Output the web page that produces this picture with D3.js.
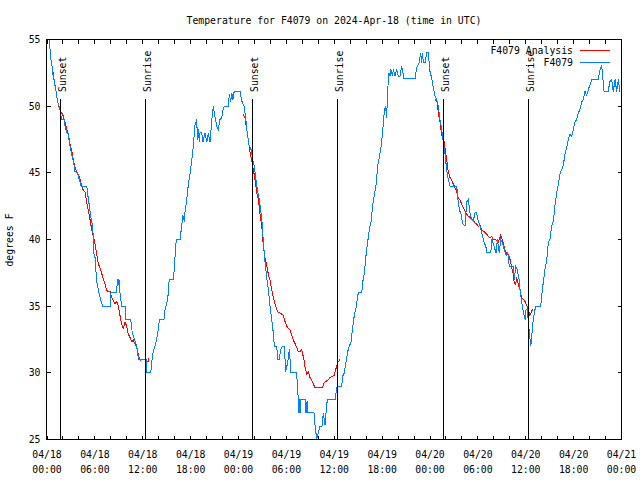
<!DOCTYPE html>
<html><head><meta charset="utf-8">
<script src="https://cdn.jsdelivr.net/npm/d3@7"></script>
<style>
body{margin:0;background:#fff}
svg{display:block}
text{font-family:"DejaVu Sans Mono",monospace;font-size:9.8px;fill:#000}
</style>
</head><body>
<svg id="chart" width="640" height="480"></svg>
<script>
// ---------------- data ----------------
const startUTC = Date.UTC(2024, 3, 18, 0, 0);   // 2024-04-18 00:00 UTC
const spanHours = 72;
const titleText = "Temperature for F4079 on 2024-Apr-18 (time in UTC)";
const yLabelText = "degrees F";
const seriesNames = ["F4079 Analysis", "F4079"];
const seriesColors = ["#ff0000", "#0080ff"];
const yTickValues = [25, 30, 35, 40, 45, 50, 55];
const labelTickHours = [0, 6, 12, 18, 24, 30, 36, 42, 48, 54, 60, 66, 72];
const minorTickHours = d3.range(0, 73, 2);
const sunsetHours = [1.72, 25.73, 49.67];
const sunriseHours = [12.32, 36.38, 60.32];

// observed F4079 (hours after start, deg F)
const observed = [[0.31,55.0],[0.38,54.25],[0.50,53.5],[0.63,53.0],[0.71,52.5],[0.88,52.0],[1.00,51.55],[1.13,51.1],[1.29,50.5],[1.47,50.05],[1.63,49.75],[1.75,49.3],[1.84,49.0],[2.13,49.0],[2.26,48.5],[2.47,48.0],[2.63,47.95],[2.79,47.35],[2.97,46.75],[3.17,46.2],[3.38,45.6],[3.51,45.1],[3.80,45.0],[4.05,44.5],[4.26,44.0],[4.98,44.0],[5.10,43.4],[5.30,42.55],[5.51,41.65],[5.73,41.0],[5.80,40.0],[5.83,39.0],[6.02,38.65],[6.23,36.85],[6.43,36.25],[6.64,35.7],[6.86,35.2],[6.98,35.0],[7.90,35.0],[8.02,36.0],[8.74,36.0],[8.81,37.0],[8.94,36.6],[9.02,37.0],[9.15,36.0],[9.36,35.0],[9.78,35.0],[9.84,34.0],[10.49,34.0],[10.69,33.0],[11.03,32.4],[11.24,32.0],[11.44,31.15],[11.53,31.0],[12.41,31.0],[12.47,30.0],[13.00,30.0],[13.12,30.8],[13.32,31.6],[13.54,32.0],[13.82,32.75],[14.07,33.85],[14.16,34.0],[14.66,34.0],[14.79,34.75],[15.13,35.5],[15.29,36.8],[15.42,37.0],[15.83,37.0],[15.95,37.75],[16.13,39.6],[16.26,40.0],[16.67,40.0],[16.88,41.0],[17.01,41.8],[17.21,41.35],[17.30,42.1],[17.51,43.0],[17.71,44.1],[17.92,44.9],[18.14,45.9],[18.34,47.05],[18.55,48.6],[18.76,49.0],[18.86,47.5],[18.96,48.25],[19.09,47.3],[19.18,48.0],[19.39,48.0],[19.55,47.3],[19.80,48.0],[20.02,47.3],[20.22,48.0],[20.43,47.3],[20.64,48.85],[20.84,50.0],[21.06,49.2],[21.27,48.5],[21.47,48.25],[21.68,49.0],[21.90,49.15],[22.10,49.9],[22.31,50.0],[22.72,50.0],[22.85,50.9],[23.02,50.3],[23.15,51.0],[23.31,50.5],[23.40,51.0],[23.56,51.1],[24.19,51.1],[24.40,50.4],[24.69,50.0],[24.90,49.15],[25.03,48.25],[25.32,47.1],[25.57,46.75],[25.78,46.0],[25.98,45.5],[26.19,44.5],[26.41,43.6],[26.61,43.0],[26.78,42.25],[26.98,41.1],[27.11,39.8],[27.32,38.35],[27.53,37.15],[27.74,36.25],[27.95,35.0],[28.16,34.0],[28.36,33.0],[28.49,32.0],[28.79,32.0],[28.91,31.0],[29.11,31.0],[29.29,31.75],[29.54,32.0],[29.74,32.0],[29.92,30.1],[30.17,30.8],[30.37,31.75],[30.46,31.0],[30.58,30.0],[31.30,30.0],[31.37,29.0],[31.50,28.0],[31.58,27.0],[31.64,28.0],[31.71,27.0],[31.77,28.0],[32.34,28.0],[32.46,27.0],[32.59,27.85],[32.71,27.0],[33.46,27.0],[33.59,26.1],[33.80,25.0],[34.00,25.5],[34.21,26.0],[34.47,26.0],[34.63,27.0],[34.84,26.1],[34.97,27.0],[35.13,28.0],[36.10,28.0],[36.22,28.5],[36.38,29.0],[36.93,29.0],[37.06,29.75],[37.26,30.0],[37.47,30.8],[37.69,31.6],[37.89,32.0],[38.10,32.3],[38.31,33.4],[38.51,34.3],[38.73,34.9],[38.94,35.8],[39.04,36.0],[39.44,36.0],[39.57,36.8],[39.77,37.5],[39.98,38.8],[40.19,39.8],[40.39,40.75],[40.61,41.35],[40.82,42.6],[41.02,43.3],[41.23,44.05],[41.45,45.55],[41.65,46.15],[41.86,46.9],[42.07,48.1],[42.27,49.6],[42.42,50.0],[42.57,49.15],[42.70,51.25],[42.86,52.5],[42.99,52.25],[43.11,52.75],[43.30,52.25],[43.40,52.75],[43.61,52.25],[43.80,52.75],[44.03,52.25],[44.24,52.25],[44.45,53.0],[44.62,52.5],[44.74,52.05],[46.12,52.05],[46.33,52.9],[46.62,53.25],[46.84,54.0],[46.96,53.25],[47.06,54.0],[47.16,53.25],[47.37,53.25],[47.59,54.0],[47.79,54.0],[48.00,52.6],[48.21,52.1],[48.41,51.4],[48.63,50.75],[48.84,50.5],[49.04,50.0],[49.25,49.0],[49.47,48.25],[49.67,47.3],[49.88,46.4],[50.09,45.25],[50.29,44.5],[50.50,44.0],[51.35,44.0],[51.47,43.15],[51.67,42.25],[51.89,41.9],[52.10,41.2],[52.39,41.0],[52.60,42.8],[52.80,43.0],[53.01,42.0],[53.23,41.5],[53.43,41.4],[53.64,42.0],[53.85,42.0],[54.06,41.35],[54.27,41.0],[54.48,40.5],[54.68,40.0],[55.02,39.4],[55.11,39.0],[55.61,39.0],[55.77,40.0],[56.02,39.5],[56.27,39.0],[56.44,40.0],[56.69,39.0],[56.86,40.0],[57.11,39.7],[57.31,39.25],[57.53,38.8],[57.74,39.0],[57.94,38.0],[58.44,38.0],[58.57,37.0],[58.74,38.0],[58.94,37.75],[59.16,37.0],[59.28,36.25],[59.49,35.3],[59.70,34.6],[59.91,34.0],[60.03,34.7],[60.20,34.75],[60.32,33.85],[60.45,33.0],[60.62,32.0],[60.72,32.5],[60.82,33.25],[60.95,34.0],[61.16,34.75],[61.29,35.0],[61.87,35.0],[62.00,35.8],[62.20,36.8],[62.41,37.75],[62.63,38.5],[62.83,39.8],[63.04,40.0],[63.25,41.05],[63.46,41.35],[63.67,42.6],[63.88,43.5],[64.08,44.1],[64.29,44.9],[64.51,45.25],[64.71,45.6],[64.92,46.4],[65.13,46.9],[65.33,47.5],[65.55,47.9],[65.76,47.7],[65.96,48.25],[66.17,48.8],[66.39,49.0],[66.59,49.5],[66.80,49.75],[67.01,50.3],[67.21,50.5],[67.43,51.1],[67.64,50.8],[67.84,51.25],[68.05,51.6],[68.27,52.0],[69.09,52.0],[69.31,52.75],[69.52,53.0],[69.64,52.25],[69.81,51.1],[70.31,51.1],[70.56,51.85],[70.77,52.0],[70.97,51.1],[71.19,52.0],[71.40,51.1],[71.60,52.0],[71.81,51.1]];

// F4079 Analysis, one array per night
const analysisNight1 = [[0.71,52.75],[0.79,52.4],[0.88,52.0],[1.09,51.25],[1.29,50.5],[1.47,50.05],[1.63,49.7],[1.79,49.55],[2.04,49.25],[2.26,48.8],[2.47,48.25],[2.67,47.9],[2.88,47.15],[3.10,46.7],[3.30,45.95],[3.51,45.4],[3.72,45.1],[3.92,44.9],[4.14,44.5],[4.35,44.0],[4.55,43.7],[4.76,43.55],[4.98,42.8],[5.18,42.2],[5.39,41.5],[5.60,40.75],[5.80,40.25],[6.02,39.65],[6.23,38.9],[6.43,38.15],[6.64,37.9],[6.86,37.45],[7.06,37.0],[7.27,36.65],[7.48,36.2],[7.68,36.1],[7.90,36.1],[8.11,35.65],[8.31,35.45],[8.52,35.15],[8.74,35.35],[8.94,35.0],[9.15,34.3],[9.36,33.65],[9.56,33.35],[9.78,33.8],[9.99,33.5],[10.19,32.9],[10.40,32.65],[10.62,32.35],[10.82,32.45],[11.03,32.15],[11.24,31.9],[11.44,31.4],[11.66,30.95],[12.28,31.0],[12.50,30.85],[12.70,30.85],[12.78,31.1]];
const analysisNight2 = [[24.60,49.4],[24.82,49.1],[25.03,48.25],[25.23,47.5],[25.44,46.55],[25.66,45.95],[25.86,45.25],[26.07,44.5],[26.28,43.55],[26.49,43.0],[26.70,41.9],[26.91,41.05],[27.11,39.55],[27.32,38.65],[27.53,38.05],[27.74,37.4],[27.95,36.95],[28.16,36.25],[28.36,35.65],[28.57,35.2],[28.79,34.75],[28.99,34.55],[29.33,34.45],[29.62,34.3],[29.74,34.0],[30.04,33.5],[30.24,33.35],[30.46,33.2],[30.67,32.8],[30.87,32.45],[31.08,32.2],[31.30,31.9],[31.50,31.6],[31.71,31.6],[31.92,31.75],[32.05,31.4],[32.21,30.95],[32.34,30.4],[32.55,29.9],[32.75,30.05],[32.96,29.65],[33.18,29.45],[33.38,29.15],[33.59,28.9],[34.55,28.9],[34.72,29.25],[35.05,29.4],[35.26,29.5],[35.47,29.65],[35.81,29.75],[35.97,29.8],[36.18,30.25],[36.31,30.5],[36.47,30.8],[36.60,30.9],[36.72,31.0]];
const analysisNight3 = [[48.63,50.45],[48.84,50.5],[49.04,49.55],[49.25,48.8],[49.47,47.8],[49.67,47.75],[49.88,46.9],[50.09,46.0],[50.29,45.1],[50.50,44.65],[50.72,44.45],[50.92,44.15],[51.13,43.9],[51.35,43.55],[51.55,43.1],[51.76,42.95],[51.97,42.65],[52.18,42.4],[52.39,42.15],[52.60,41.9],[52.80,41.75],[53.01,41.65],[53.23,41.5],[53.43,41.4],[53.64,41.25],[53.85,41.15],[54.06,41.0],[54.27,41.05],[54.48,40.75],[54.68,40.6],[54.89,40.55],[55.11,40.4],[55.31,40.25],[55.52,40.1],[55.73,40.25],[55.94,40.0],[56.15,40.0],[56.36,39.95],[56.56,39.8],[56.69,40.0],[56.86,40.3],[56.99,40.1],[57.19,39.7],[57.41,39.2],[57.62,38.95],[57.82,38.9],[58.03,38.5],[58.24,37.9],[58.44,37.4],[58.57,36.7],[58.74,36.65],[58.87,37.15],[59.07,36.65],[59.28,36.2],[59.49,35.65],[59.70,35.5],[59.91,35.35],[60.12,35.05],[60.32,34.7],[60.53,34.3],[60.74,34.65],[60.87,34.75]];

// ---------------- chart ----------------
const svg = d3.select("#chart");
const L = 46.5, R = 621.5, T = 39.5, B = 439.5;
const toDate = h => new Date(startUTC + h * 3600e3);
const x = d3.scaleUtc().domain([toDate(0), toDate(spanHours)]).range([47, 621.5]);
const y = d3.scaleLinear().domain([25, 55]).range([B, T]);
const crisp = v => Math.round(v - 0.5) + 0.5;

// title
svg.append("text").attr("x", 334).attr("y", 24).attr("text-anchor", "middle").text(titleText);
// y label
svg.append("text").attr("transform", "translate(13,240) rotate(-90)").attr("text-anchor", "middle").text(yLabelText);

// data lines
const line = d3.line().x(d => x(toDate(d[0]))).y(d => y(d[1]));
const plot = svg.append("g");
[analysisNight1, analysisNight2, analysisNight3].forEach(seg => {
  plot.append("path").attr("d", line(seg)).attr("fill", "none")
    .attr("stroke", seriesColors[0]).attr("stroke-width", 1).attr("shape-rendering", "crispEdges");
});
plot.append("path").attr("d", line(observed)).attr("fill", "none")
  .attr("stroke", seriesColors[1]).attr("stroke-width", 1).attr("shape-rendering", "crispEdges");

// sunrise / sunset markers
const events = sunsetHours.map(h => ({h, label: "Sunset"}))
  .concat(sunriseHours.map(h => ({h, label: "Sunrise"})));
events.forEach(ev => {
  const xp = crisp(x(toDate(ev.h)));
  svg.append("line").attr("x1", xp).attr("x2", xp).attr("y1", 99).attr("y2", B)
    .attr("stroke", "#000").attr("stroke-width", 1).attr("shape-rendering", "crispEdges");
  svg.append("text").attr("transform", `translate(${xp + 5},92) rotate(-90)`)
    .attr("text-anchor", "start").text(ev.label);
});

// ticks
const tg = svg.append("g").attr("stroke", "#000").attr("stroke-width", 1).attr("shape-rendering", "crispEdges");
minorTickHours.forEach(h => {
  const xp = crisp(x(toDate(h)));
  tg.append("line").attr("x1", xp).attr("x2", xp).attr("y1", B).attr("y2", B - 4);
  tg.append("line").attr("x1", xp).attr("x2", xp).attr("y1", T).attr("y2", T + 4);
});
yTickValues.forEach(v => {
  const yp = crisp(y(v));
  tg.append("line").attr("x1", L).attr("x2", L + 4).attr("y1", yp).attr("y2", yp);
  tg.append("line").attr("x1", R).attr("x2", R - 4).attr("y1", yp).attr("y2", yp);
});
// border
svg.append("rect").attr("x", L).attr("y", T).attr("width", R - L).attr("height", B - T)
  .attr("fill", "none").attr("stroke", "#000").attr("stroke-width", 1).attr("shape-rendering", "crispEdges");

// tick labels
const fmtDay = d3.utcFormat("%m/%d"), fmtTime = d3.utcFormat("%H:%M");
labelTickHours.forEach(h => {
  const d = toDate(h), xp = x(d);
  svg.append("text").attr("x", xp).attr("y", 458).attr("text-anchor", "middle").text(fmtDay(d));
  svg.append("text").attr("x", xp).attr("y", 473).attr("text-anchor", "middle").text(fmtTime(d));
});
yTickValues.forEach(v => {
  svg.append("text").attr("x", 40.5).attr("y", y(v) + 3.5).attr("text-anchor", "end").text(v);
});

// legend
seriesNames.forEach((name, i) => {
  const yy = 54 + i * 12.3;
  svg.append("text").attr("x", 573).attr("y", yy).attr("text-anchor", "end").text(name);
  const ly = crisp(yy - 3.5);
  svg.append("line").attr("x1", 580).attr("x2", 610).attr("y1", ly).attr("y2", ly)
    .attr("stroke", seriesColors[i]).attr("stroke-width", 1).attr("shape-rendering", "crispEdges");
});
</script>
</body></html>
